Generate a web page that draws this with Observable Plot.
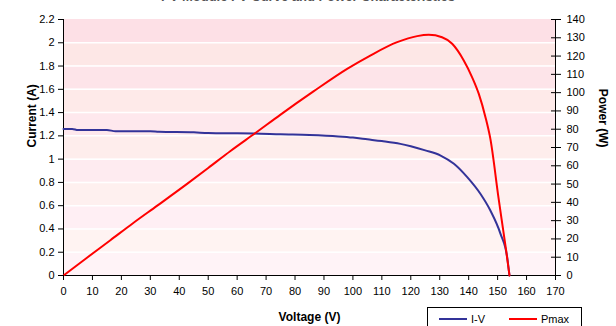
<!DOCTYPE html>
<html>
<head>
<meta charset="utf-8">
<script src="https://cdn.jsdelivr.net/npm/d3@7"></script>
<script src="https://cdn.jsdelivr.net/npm/@observablehq/plot@0.6"></script>
<style>
  html, body { margin: 0; padding: 0; background: white; }
  #wrap { position: relative; width: 616px; height: 326px; overflow: hidden; font-family: "Liberation Sans", Arial, sans-serif; }
  #title { position: absolute; left: 0; width: 616px; top: -10px; text-align: center; font-weight: bold; font-size: 13px; line-height: 13px; color: #555; }
  #legend { position: absolute; left: 427px; top: 307px; width: 155px; height: 30px; border: 1px solid #000; background: #fff; font-size: 11px; box-sizing: border-box; }
  .item { position: absolute; top: 5px; height: 13px; line-height: 13px; }
  .sw { display: inline-block; width: 28px; height: 0; border-top: 2px solid; vertical-align: middle; margin-right: 4px; margin-top: -2px; }
</style>
</head>
<body>
<div id="wrap">
  <div id="chart"></div>
  <div id="title">PV Module I-V Curve and Power Characteristics</div>
  <div id="legend">
    <div class="item" style="left:11px"><span class="sw" style="border-color:#333399"></span>I-V</div>
    <div class="item" style="left:81px"><span class="sw" style="border-color:#ff0000"></span>Pmax</div>
  </div>
</div>
<script>
// I-V curve
const ivVoltage = [0, 3, 5, 15, 18, 30, 33, 45, 50, 60, 66, 75, 85, 95, 100, 105, 110, 116.4, 120, 125, 130.3, 134.9, 139.5, 144.1, 147.5, 151, 153.3, 153.9, 154.1];
const ivCurrent = [1.26, 1.26, 1.25, 1.25, 1.24, 1.24, 1.235, 1.23, 1.225, 1.222, 1.22, 1.213, 1.207, 1.195, 1.185, 1.17, 1.155, 1.131, 1.11, 1.075, 1.031, 0.96, 0.845, 0.70, 0.558, 0.358, 0.157, 0.04, 0];
// Power curve
const pVoltage = [0, 8, 16.2, 24, 32.4, 42.7, 50, 57.7, 66.3, 75, 86.5, 98, 106, 115.3, 122.2, 126.2, 130.8, 134.3, 138.3, 141.2, 143.5, 145.8, 147.5, 150.3, 152, 153, 154.1];
const pPower = [0, 9.6, 19.3, 28.6, 38.2, 50.1, 58.8, 68.1, 77.9, 88, 100.8, 113, 120.3, 127.6, 130.9, 131.6, 130.3, 126.7, 117.6, 108.4, 99.3, 86.6, 74.7, 42.6, 24, 13, 0];

const voltageTicks = d3.range(0, 171, 10);
const currentTicks = [0, 0.2, 0.4, 0.6, 0.8, 1.0, 1.2, 1.4, 1.6, 1.8, 2.0, 2.2];
const powerTicks = d3.range(0, 141, 10);
const powerMax = 140, currentMax = 2.2;

const toY = p => p * currentMax / powerMax;
const ivData = ivVoltage.map((v, i) => ({v, c: ivCurrent[i]}));
const pData = pVoltage.map((v, i) => ({v, p: pPower[i]}));
const bandStarts = currentTicks.slice(0, -1);
const pink = d3.interpolateRgb("#fff3f7", "#fde0e6");
const peach = d3.interpolateRgb("#fff4f4", "#fde6e4");
const n = bandStarts.length - 1;

const chart = Plot.plot({
  width: 616,
  height: 326,
  marginLeft: 63,
  marginRight: 61,
  marginTop: 19,
  marginBottom: 51,
  style: {fontFamily: "'Liberation Sans', Arial, sans-serif", fontSize: "11px", color: "#000", background: "transparent"},
  x: {domain: [0, 170]},
  y: {domain: [0, currentMax]},
  color: {type: "identity"},
  marks: [
    Plot.rect(bandStarts, {y1: d => d, y2: d => d + 0.2, fill: (d, i) => (i % 2 === 0 ? pink : peach)(i / n)}),
    Plot.ruleY(currentTicks.slice(1, -1), {stroke: "white", strokeWidth: 1.5}),
    Plot.ruleX([0], {stroke: "#000"}),
    Plot.ruleX([170], {stroke: "#000"}),
    Plot.ruleY([0], {stroke: "#000"}),
    Plot.line(ivData, {x: "v", y: "c", stroke: "#333399", strokeWidth: 2, curve: "monotone-x"}),
    Plot.line(pData, {x: "v", y: d => toY(d.p), stroke: "#ff0000", strokeWidth: 2, curve: "monotone-x"}),
    Plot.axisX(voltageTicks, {tickSize: 5, tickPadding: 7, label: null}),
    Plot.axisY(currentTicks, {anchor: "left", tickSize: 5, tickPadding: 4, label: null, tickFormat: d => String(+d.toFixed(1))}),
    Plot.axisY(powerTicks.map(toY), {anchor: "right", tickSize: 5, tickPadding: 6, label: null, tickFormat: d => String(Math.round(d * powerMax / currentMax))}),
    Plot.axisY(powerTicks.map(toY), {anchor: "right", tickSize: 5, dx: -5, label: null, tickFormat: () => ""}),
    Plot.text(["Voltage (V)"], {frameAnchor: "bottom", dy: 45, fontWeight: "bold", fontSize: 12}),
    Plot.text(["Current (A)"], {frameAnchor: "left", dx: -31, rotate: -90, fontWeight: "bold", fontSize: 12}),
    Plot.text(["Power (W)"], {frameAnchor: "right", dx: 47, rotate: 90, fontWeight: "bold", fontSize: 12})
  ]
});
document.getElementById("chart").appendChild(chart);
</script>
</body>
</html>
